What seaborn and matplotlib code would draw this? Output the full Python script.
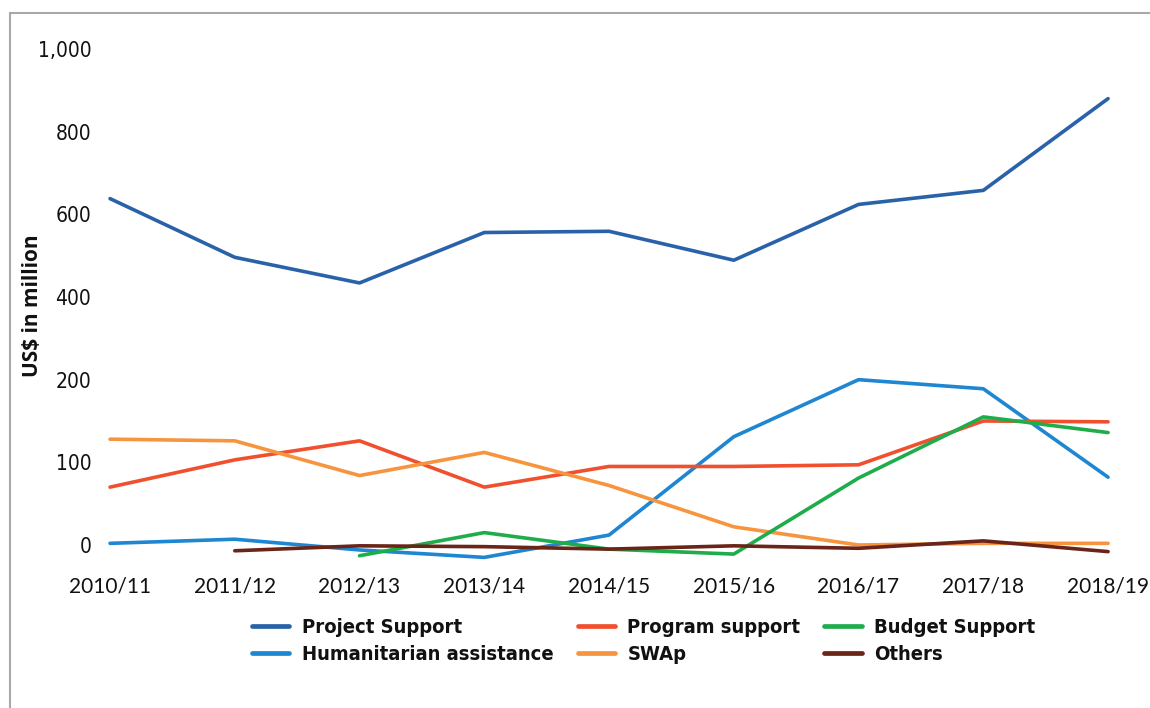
import numpy as np
import pandas as pd
import matplotlib
matplotlib.use("Agg")
import matplotlib.pyplot as plt
from matplotlib.lines import Line2D
from matplotlib import font_manager as fm
import seaborn as sns

years = ["2010/11", "2011/12", "2012/13", "2013/14", "2014/15",
         "2015/16", "2016/17", "2017/18", "2018/19"]

project_support = [638, 496, 434, 556, 559, 489, 624, 658, 880]
program_support = [70, 103, 126, 70, 95, 95, 97, 150, 149]
budget_support = [np.nan, np.nan, -13, 15, -5, -11, 81, 155, 136]
humanitarian = [2, 7, -6, -15, 12, 131, 200, 189, 82]
swap = [128, 126, 84, 112, 72, 22, 0, 2, 2]
others = [np.nan, -7, -1, -2, -5, -1, -4, 5, -8]

series_names = ["Project Support", "Humanitarian assistance", "Program support",
                "SWAp", "Budget Support", "Others"]
series_values = [project_support, humanitarian, program_support,
                 swap, budget_support, others]
colors = ["#2a62aa", "#1f86d2", "#f1502f", "#f7943e", "#1fad4c", "#6a2418"]

y_ticks = [0, 100, 200, 400, 600, 800, 1000]

rows = []
for name, vals in zip(series_names, series_values):
    for yr, v in zip(years, vals):
        rows.append({"Year": yr, "Value": v, "Series": name})
df = pd.DataFrame(rows).dropna()

sns.set_theme(style="white")
plt.rcParams["font.family"] = ["DejaVu Sans"]

fig = plt.figure(figsize=(11.5, 7.08), dpi=100)
W, H = 1150, 708
left_px, right_px = 103.8, 1114.3
top_px, bot_px = 40, 565
ax = fig.add_axes([left_px / W, 1 - bot_px / H,
                   (right_px - left_px) / W, (bot_px - top_px) / H])

palette = dict(zip(series_names, colors))
sns.lineplot(data=df, x="Year", y="Value", hue="Series", hue_order=series_names,
             palette=palette, linewidth=2.6, legend=False, ax=ax, sort=False)


# axis compressed above 200 (each 200 step above 200 spans one 100 step below)
def fwd(y):
    y = np.asarray(y, dtype=float)
    return np.where(y <= 200, y, 200 + (y - 200) / 2)


def inv(t):
    t = np.asarray(t, dtype=float)
    return np.where(t <= 200, t, 200 + (t - 200) * 2)


ax.set_yscale("function", functions=(fwd, inv))
ax.set_ylim(-24.2, 1021.8)
ax.set_xlim(-0.05, 8.05)

narrow = fm.FontProperties(family="DejaVu Sans", stretch="condensed", size=15)
ax.set_yticks(y_ticks)
ax.set_yticklabels([f"{v:,}" for v in y_ticks], fontproperties=narrow)
ax.set_xticks(range(len(years)))
ax.set_xticklabels(years, fontsize=15, family=["Lato", "DejaVu Sans"])
ax.tick_params(axis="y", length=0, pad=9, colors="#111111")
ax.tick_params(axis="x", length=0, pad=8, colors="#111111")
ax.set_xlabel("")
ax.set_ylabel("")
for s in ax.spines.values():
    s.set_visible(False)

fig.text(33 / W, 1 - 306 / H, "US$ in million", rotation=90, ha="center",
         va="center", fontsize=15, fontweight="bold",
         family=["Open Sans", "DejaVu Sans"], color="#111111")

handles = [Line2D([], [], color=c, linewidth=3.4, solid_capstyle="round")
           for c in colors]
leg_font = fm.FontProperties(family="DejaVu Sans", stretch="condensed",
                             weight="bold", size=14.5)
leg = fig.legend(handles, series_names, ncol=3, loc="upper left",
                 bbox_to_anchor=(252 / W, 1 - 618 / H), frameon=False,
                 prop=leg_font,
                 handlelength=1.85, handletextpad=0.62, columnspacing=1.2,
                 labelspacing=0.42, borderaxespad=0, borderpad=0)
for t in leg.get_texts():
    t.set_color("#111111")

# page frame along top and left edges
frame_kw = dict(color="#a8a8a8", linewidth=1.5, transform=fig.transFigure)
fig.add_artist(Line2D([10 / W, 1], [1 - 13 / H, 1 - 13 / H], **frame_kw))
fig.add_artist(Line2D([10 / W, 10 / W], [0, 1 - 13 / H], **frame_kw))

fig.savefig("out.png", dpi=100, facecolor="white")
